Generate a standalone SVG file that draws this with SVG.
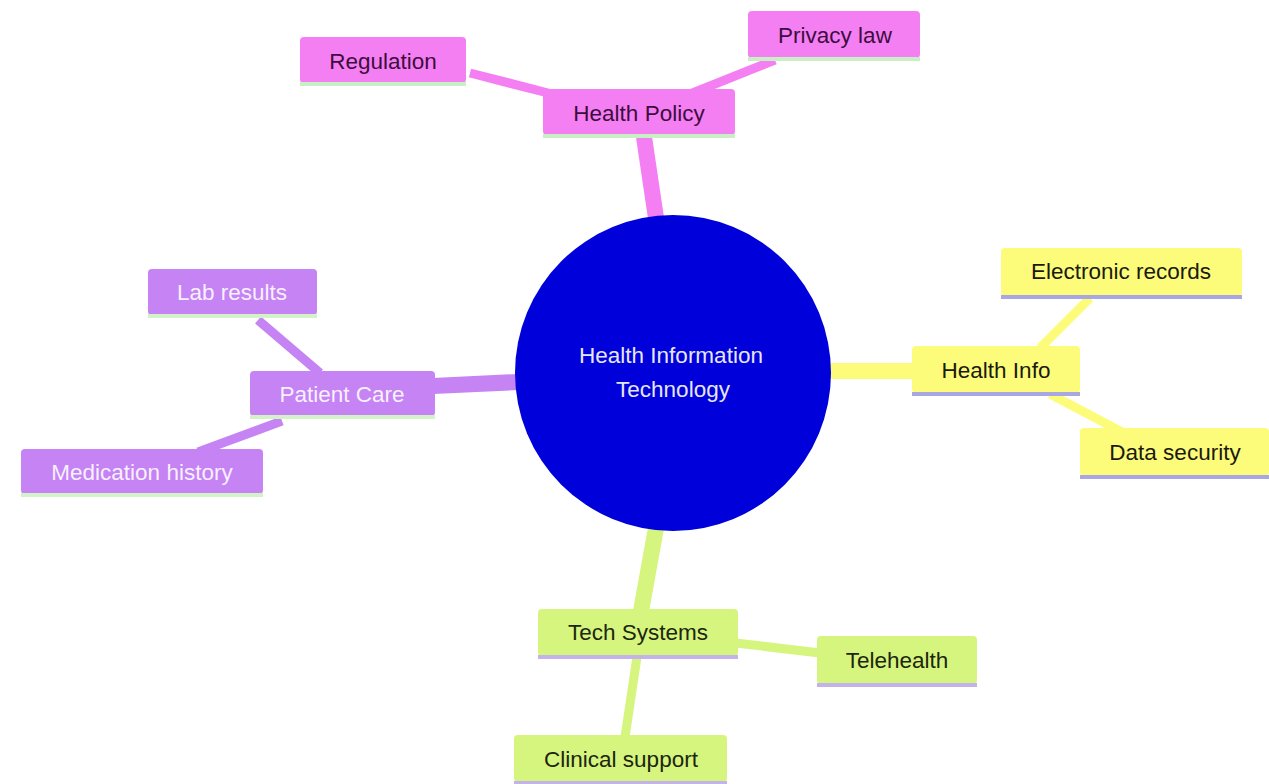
<svg xmlns="http://www.w3.org/2000/svg" width="1269" height="784" viewBox="0 0 1269 784">
<style>
text{font-family:"Liberation Sans",Arial,sans-serif;font-size:22.5px;text-anchor:middle;dominant-baseline:central}
.pk rect.b{fill:#f47ff2}.pk line.u{stroke:#c9f0c4}.pk text{fill:#3e0d40}
.pu rect.b{fill:#c583f3}.pu line.u{stroke:#d3f2c8}.pu text{fill:#f7f0ff}
.ye rect.b{fill:#fdfc7a}.ye line.u{stroke:#a9a7e3}.ye text{fill:#1a1a10}
.gr rect.b{fill:#d6f57e}.gr line.u{stroke:#c4b3ea}.gr text{fill:#1c2610}
line.u{stroke-width:4}
.c{fill:none;stroke-linecap:butt}
</style>
<rect width="1269" height="784" fill="#ffffff"/>
<g id="connectors">
<line class="c" x1="656" y1="218" x2="644" y2="137" stroke="#f47ff2" stroke-width="16"/>
<line class="c" x1="470" y1="73" x2="552" y2="94" stroke="#f47ff2" stroke-width="9"/>
<line class="c" x1="775" y1="60" x2="690" y2="94" stroke="#f47ff2" stroke-width="9"/>
<line class="c" x1="830" y1="371" x2="914" y2="371" stroke="#fdfc7a" stroke-width="16"/>
<line class="c" x1="1090" y1="298" x2="1040" y2="348" stroke="#fdfc7a" stroke-width="9"/>
<line class="c" x1="1050" y1="394" x2="1122" y2="432" stroke="#fdfc7a" stroke-width="9"/>
<line class="c" x1="518" y1="382" x2="433" y2="386" stroke="#c583f3" stroke-width="16"/>
<line class="c" x1="258" y1="320" x2="320" y2="373" stroke="#c583f3" stroke-width="9"/>
<line class="c" x1="282" y1="421" x2="198" y2="452" stroke="#c583f3" stroke-width="9"/>
<line class="c" x1="656" y1="528" x2="641" y2="611" stroke="#d6f57e" stroke-width="16"/>
<line class="c" x1="736" y1="643" x2="820" y2="653" stroke="#d6f57e" stroke-width="9"/>
<line class="c" x1="637" y1="657" x2="625" y2="737" stroke="#d6f57e" stroke-width="9"/>
</g>
<g id="root">
<circle cx="673" cy="373" r="158" fill="#0000da"/>
<text x="671" y="355" fill="#e6e6f5">Health Information</text>
<text x="673" y="389" fill="#e6e6f5">Technology</text>
</g>
<g id="health-policy" class="pk">
<rect class="b" x="543" y="89" width="192" height="46" rx="4"/>
<line class="u" x1="543" y1="136" x2="735" y2="136"/>
<text x="639" y="113">Health Policy</text>
</g>
<g id="regulation" class="pk">
<rect class="b" x="300" y="37" width="166" height="46" rx="4"/>
<line class="u" x1="300" y1="84" x2="466" y2="84"/>
<text x="383" y="61">Regulation</text>
</g>
<g id="privacy-law" class="pk">
<rect class="b" x="748" y="11" width="172" height="47" rx="4"/>
<line class="u" x1="748" y1="59" x2="920" y2="59"/>
<text x="835" y="35">Privacy law</text>
</g>
<g id="health-info" class="ye">
<rect class="b" x="912" y="346" width="168" height="47" rx="4"/>
<line class="u" x1="912" y1="394" x2="1080" y2="394"/>
<text x="996" y="370">Health Info</text>
</g>
<g id="electronic-records" class="ye">
<rect class="b" x="1001" y="248" width="241" height="48" rx="4"/>
<line class="u" x1="1001" y1="297" x2="1242" y2="297"/>
<text x="1121" y="271">Electronic records</text>
</g>
<g id="data-security" class="ye">
<rect class="b" x="1080" y="428" width="189" height="48" rx="4"/>
<line class="u" x1="1080" y1="477" x2="1269" y2="477"/>
<text x="1175" y="452">Data security</text>
</g>
<g id="patient-care" class="pu">
<rect class="b" x="250" y="371" width="185" height="45" rx="4"/>
<line class="u" x1="250" y1="417" x2="435" y2="417"/>
<text x="342" y="394">Patient Care</text>
</g>
<g id="lab-results" class="pu">
<rect class="b" x="148" y="269" width="169" height="46" rx="4"/>
<line class="u" x1="148" y1="316" x2="317" y2="316"/>
<text x="232" y="292">Lab results</text>
</g>
<g id="medication-history" class="pu">
<rect class="b" x="21" y="449" width="242" height="45" rx="4"/>
<line class="u" x1="21" y1="495" x2="263" y2="495"/>
<text x="142" y="472">Medication history</text>
</g>
<g id="tech-systems" class="gr">
<rect class="b" x="538" y="609" width="200" height="47" rx="4"/>
<line class="u" x1="538" y1="657" x2="738" y2="657"/>
<text x="638" y="632">Tech Systems</text>
</g>
<g id="telehealth" class="gr">
<rect class="b" x="817" y="636" width="160" height="48" rx="4"/>
<line class="u" x1="817" y1="685" x2="977" y2="685"/>
<text x="897" y="660">Telehealth</text>
</g>
<g id="clinical-support" class="gr">
<rect class="b" x="514" y="735" width="213" height="47" rx="4"/>
<line class="u" x1="514" y1="783" x2="727" y2="783"/>
<text x="621" y="759">Clinical support</text>
</g>
</svg>
